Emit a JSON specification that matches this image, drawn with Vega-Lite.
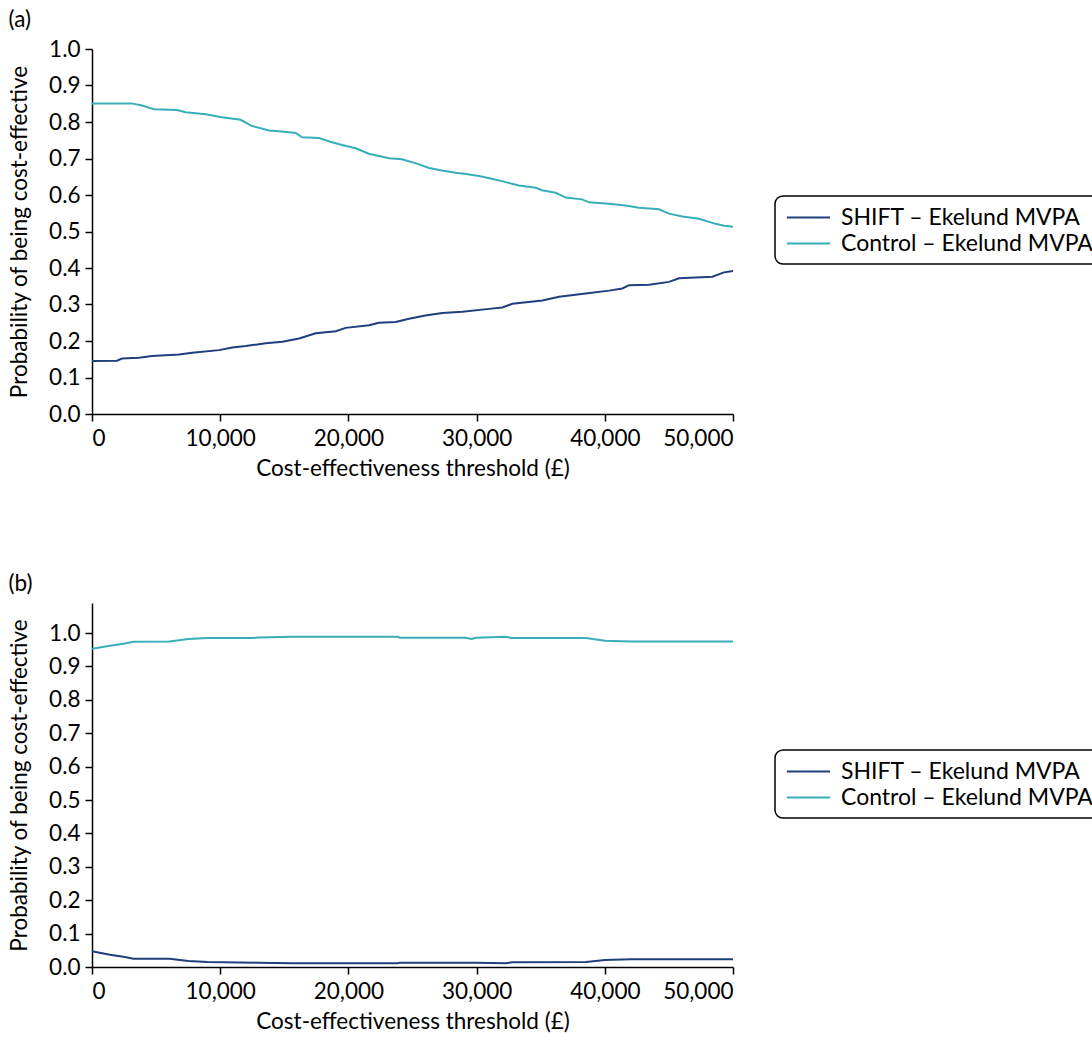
{
  "$schema": "https://vega.github.io/schema/vega-lite/v6.json",
  "padding": {"left": 8, "top": 8, "right": 0, "bottom": 0},
  "background": "white",
  "config": {
    "font": "Lato",
    "view": {"stroke": null},
    "axis": {
      "grid": false,
      "domainColor": "black",
      "domainWidth": 1.5,
      "tickColor": "black",
      "tickWidth": 1.5,
      "tickSize": 7,
      "labelColor": "black",
      "labelFontSize": 22.5,
      "labelFont": "Lato",
      "titleColor": "black",
      "titleFontSize": 22.5,
      "titleFont": "Lato",
      "titleFontWeight": "normal"
    },
    "axisX": {"labelPadding": 6, "titlePadding": 8},
    "axisY": {"labelPadding": 5, "titlePadding": 17},
    "title": {"fontSize": 22.5, "fontWeight": "normal", "color": "black", "font": "Lato", "anchor": "start", "frame": "bounds"},
    "legend": {
      "strokeColor": "black",
      "strokeWidth": 1.5,
      "cornerRadius": 8,
      "fillColor": "white",
      "padding": 8.5,
      "symbolOffset": 12,
      "symbolType": "M-1.8,0L1.8,0",
      "symbolSize": 576,
      "symbolStrokeWidth": 2,
      "labelFontSize": 23,
      "labelFont": "Lato",
      "labelColor": "black",
      "labelOffset": 19.5,
      "labelLimit": 400,
      "rowPadding": 1
    }
  },
  "datasets": {
    "a": [
      {"s": "Control – Ekelund MVPA", "t": 0, "v": 0.851},
      {"s": "Control – Ekelund MVPA", "t": 3100, "v": 0.851},
      {"s": "Control – Ekelund MVPA", "t": 3900, "v": 0.845},
      {"s": "Control – Ekelund MVPA", "t": 4840, "v": 0.835},
      {"s": "Control – Ekelund MVPA", "t": 6630, "v": 0.833},
      {"s": "Control – Ekelund MVPA", "t": 7300, "v": 0.827},
      {"s": "Control – Ekelund MVPA", "t": 8870, "v": 0.821},
      {"s": "Control – Ekelund MVPA", "t": 10140, "v": 0.813},
      {"s": "Control – Ekelund MVPA", "t": 11600, "v": 0.806},
      {"s": "Control – Ekelund MVPA", "t": 12480, "v": 0.789},
      {"s": "Control – Ekelund MVPA", "t": 13800, "v": 0.777},
      {"s": "Control – Ekelund MVPA", "t": 15000, "v": 0.773},
      {"s": "Control – Ekelund MVPA", "t": 15890, "v": 0.770},
      {"s": "Control – Ekelund MVPA", "t": 16380, "v": 0.758},
      {"s": "Control – Ekelund MVPA", "t": 17700, "v": 0.756},
      {"s": "Control – Ekelund MVPA", "t": 18600, "v": 0.746},
      {"s": "Control – Ekelund MVPA", "t": 19500, "v": 0.737},
      {"s": "Control – Ekelund MVPA", "t": 20570, "v": 0.728},
      {"s": "Control – Ekelund MVPA", "t": 21600, "v": 0.713},
      {"s": "Control – Ekelund MVPA", "t": 23160, "v": 0.701},
      {"s": "Control – Ekelund MVPA", "t": 24180, "v": 0.698},
      {"s": "Control – Ekelund MVPA", "t": 25350, "v": 0.686},
      {"s": "Control – Ekelund MVPA", "t": 26290, "v": 0.674},
      {"s": "Control – Ekelund MVPA", "t": 27300, "v": 0.667},
      {"s": "Control – Ekelund MVPA", "t": 28370, "v": 0.661},
      {"s": "Control – Ekelund MVPA", "t": 29300, "v": 0.657},
      {"s": "Control – Ekelund MVPA", "t": 30190, "v": 0.652},
      {"s": "Control – Ekelund MVPA", "t": 31000, "v": 0.646},
      {"s": "Control – Ekelund MVPA", "t": 31980, "v": 0.638},
      {"s": "Control – Ekelund MVPA", "t": 33300, "v": 0.626},
      {"s": "Control – Ekelund MVPA", "t": 34610, "v": 0.620},
      {"s": "Control – Ekelund MVPA", "t": 35100, "v": 0.613},
      {"s": "Control – Ekelund MVPA", "t": 36170, "v": 0.606},
      {"s": "Control – Ekelund MVPA", "t": 36950, "v": 0.593},
      {"s": "Control – Ekelund MVPA", "t": 38220, "v": 0.588},
      {"s": "Control – Ekelund MVPA", "t": 38770, "v": 0.580},
      {"s": "Control – Ekelund MVPA", "t": 40330, "v": 0.576},
      {"s": "Control – Ekelund MVPA", "t": 41630, "v": 0.571},
      {"s": "Control – Ekelund MVPA", "t": 42670, "v": 0.565},
      {"s": "Control – Ekelund MVPA", "t": 44230, "v": 0.561},
      {"s": "Control – Ekelund MVPA", "t": 45010, "v": 0.549},
      {"s": "Control – Ekelund MVPA", "t": 46050, "v": 0.541},
      {"s": "Control – Ekelund MVPA", "t": 47350, "v": 0.535},
      {"s": "Control – Ekelund MVPA", "t": 48650, "v": 0.521},
      {"s": "Control – Ekelund MVPA", "t": 49300, "v": 0.516},
      {"s": "Control – Ekelund MVPA", "t": 50000, "v": 0.513},
      {"s": "SHIFT – Ekelund MVPA", "t": 0, "v": 0.145},
      {"s": "SHIFT – Ekelund MVPA", "t": 1950, "v": 0.146},
      {"s": "SHIFT – Ekelund MVPA", "t": 2340, "v": 0.152},
      {"s": "SHIFT – Ekelund MVPA", "t": 3660, "v": 0.154},
      {"s": "SHIFT – Ekelund MVPA", "t": 4680, "v": 0.159},
      {"s": "SHIFT – Ekelund MVPA", "t": 6790, "v": 0.163},
      {"s": "SHIFT – Ekelund MVPA", "t": 7820, "v": 0.168},
      {"s": "SHIFT – Ekelund MVPA", "t": 9910, "v": 0.175},
      {"s": "SHIFT – Ekelund MVPA", "t": 10950, "v": 0.182},
      {"s": "SHIFT – Ekelund MVPA", "t": 11990, "v": 0.186},
      {"s": "SHIFT – Ekelund MVPA", "t": 13550, "v": 0.194},
      {"s": "SHIFT – Ekelund MVPA", "t": 14850, "v": 0.198},
      {"s": "SHIFT – Ekelund MVPA", "t": 16150, "v": 0.207},
      {"s": "SHIFT – Ekelund MVPA", "t": 17450, "v": 0.221},
      {"s": "SHIFT – Ekelund MVPA", "t": 19010, "v": 0.227},
      {"s": "SHIFT – Ekelund MVPA", "t": 19790, "v": 0.236},
      {"s": "SHIFT – Ekelund MVPA", "t": 21610, "v": 0.243},
      {"s": "SHIFT – Ekelund MVPA", "t": 22390, "v": 0.250},
      {"s": "SHIFT – Ekelund MVPA", "t": 23690, "v": 0.252},
      {"s": "SHIFT – Ekelund MVPA", "t": 24730, "v": 0.261},
      {"s": "SHIFT – Ekelund MVPA", "t": 26000, "v": 0.270},
      {"s": "SHIFT – Ekelund MVPA", "t": 27330, "v": 0.277},
      {"s": "SHIFT – Ekelund MVPA", "t": 28890, "v": 0.280},
      {"s": "SHIFT – Ekelund MVPA", "t": 30970, "v": 0.288},
      {"s": "SHIFT – Ekelund MVPA", "t": 32010, "v": 0.292},
      {"s": "SHIFT – Ekelund MVPA", "t": 32790, "v": 0.302},
      {"s": "SHIFT – Ekelund MVPA", "t": 35130, "v": 0.311},
      {"s": "SHIFT – Ekelund MVPA", "t": 36430, "v": 0.321},
      {"s": "SHIFT – Ekelund MVPA", "t": 38510, "v": 0.330},
      {"s": "SHIFT – Ekelund MVPA", "t": 40330, "v": 0.338},
      {"s": "SHIFT – Ekelund MVPA", "t": 41370, "v": 0.344},
      {"s": "SHIFT – Ekelund MVPA", "t": 41890, "v": 0.353},
      {"s": "SHIFT – Ekelund MVPA", "t": 43450, "v": 0.354},
      {"s": "SHIFT – Ekelund MVPA", "t": 45010, "v": 0.362},
      {"s": "SHIFT – Ekelund MVPA", "t": 45790, "v": 0.372},
      {"s": "SHIFT – Ekelund MVPA", "t": 48390, "v": 0.376},
      {"s": "SHIFT – Ekelund MVPA", "t": 49300, "v": 0.388},
      {"s": "SHIFT – Ekelund MVPA", "t": 50000, "v": 0.392}
    ],
    "b": [
      {"s": "Control – Ekelund MVPA", "t": 0, "v": 0.953},
      {"s": "Control – Ekelund MVPA", "t": 1400, "v": 0.962},
      {"s": "Control – Ekelund MVPA", "t": 2570, "v": 0.969},
      {"s": "Control – Ekelund MVPA", "t": 3230, "v": 0.974},
      {"s": "Control – Ekelund MVPA", "t": 6040, "v": 0.975},
      {"s": "Control – Ekelund MVPA", "t": 7520, "v": 0.982},
      {"s": "Control – Ekelund MVPA", "t": 9000, "v": 0.985},
      {"s": "Control – Ekelund MVPA", "t": 12640, "v": 0.985},
      {"s": "Control – Ekelund MVPA", "t": 12950, "v": 0.987},
      {"s": "Control – Ekelund MVPA", "t": 15600, "v": 0.989},
      {"s": "Control – Ekelund MVPA", "t": 23850, "v": 0.989},
      {"s": "Control – Ekelund MVPA", "t": 24020, "v": 0.986},
      {"s": "Control – Ekelund MVPA", "t": 29130, "v": 0.986},
      {"s": "Control – Ekelund MVPA", "t": 29620, "v": 0.982},
      {"s": "Control – Ekelund MVPA", "t": 29950, "v": 0.986},
      {"s": "Control – Ekelund MVPA", "t": 32270, "v": 0.989},
      {"s": "Control – Ekelund MVPA", "t": 32760, "v": 0.985},
      {"s": "Control – Ekelund MVPA", "t": 38530, "v": 0.985},
      {"s": "Control – Ekelund MVPA", "t": 40010, "v": 0.977},
      {"s": "Control – Ekelund MVPA", "t": 42000, "v": 0.975},
      {"s": "Control – Ekelund MVPA", "t": 50000, "v": 0.975},
      {"s": "SHIFT – Ekelund MVPA", "t": 0, "v": 0.047},
      {"s": "SHIFT – Ekelund MVPA", "t": 1400, "v": 0.037},
      {"s": "SHIFT – Ekelund MVPA", "t": 2570, "v": 0.030},
      {"s": "SHIFT – Ekelund MVPA", "t": 3230, "v": 0.025},
      {"s": "SHIFT – Ekelund MVPA", "t": 6040, "v": 0.025},
      {"s": "SHIFT – Ekelund MVPA", "t": 7520, "v": 0.018},
      {"s": "SHIFT – Ekelund MVPA", "t": 9000, "v": 0.015},
      {"s": "SHIFT – Ekelund MVPA", "t": 12950, "v": 0.013},
      {"s": "SHIFT – Ekelund MVPA", "t": 15600, "v": 0.011},
      {"s": "SHIFT – Ekelund MVPA", "t": 23850, "v": 0.011},
      {"s": "SHIFT – Ekelund MVPA", "t": 24020, "v": 0.013},
      {"s": "SHIFT – Ekelund MVPA", "t": 29950, "v": 0.013},
      {"s": "SHIFT – Ekelund MVPA", "t": 32270, "v": 0.011},
      {"s": "SHIFT – Ekelund MVPA", "t": 32760, "v": 0.014},
      {"s": "SHIFT – Ekelund MVPA", "t": 38530, "v": 0.015},
      {"s": "SHIFT – Ekelund MVPA", "t": 40010, "v": 0.021},
      {"s": "SHIFT – Ekelund MVPA", "t": 42000, "v": 0.023},
      {"s": "SHIFT – Ekelund MVPA", "t": 50000, "v": 0.023}
    ]
  },
  "spacing": 92,
  "resolve": {"scale": {"color": "independent"}, "legend": {"color": "independent"}},
  "vconcat": [
    {
      "title": {"text": "(a)", "offset": 7},
      "width": 641,
      "height": 365,
      "data": {"name": "a"},
      "mark": {"type": "line", "strokeWidth": 2},
      "encoding": {
        "x": {"field": "t", "type": "quantitative", "scale": {"domain": [0, 50000], "nice": false},
          "axis": {"values": [0, 10000, 20000, 30000, 40000, 50000], "format": ",d", "title": "Cost-effectiveness threshold (£)"}},
        "y": {"field": "v", "type": "quantitative", "scale": {"domain": [0, 1], "nice": false},
          "axis": {"values": [0, 0.1, 0.2, 0.3, 0.4, 0.5, 0.6, 0.7, 0.8, 0.9, 1.0], "format": ".1f", "title": "Probability of being cost-effective"}},
        "color": {"field": "s", "type": "nominal",
          "scale": {"domain": ["SHIFT – Ekelund MVPA", "Control – Ekelund MVPA"], "range": ["#1f3f7c", "#38afb8"]},
          "legend": {"title": null, "orient": "none", "legendX": 683, "legendY": 147}}
      }
    },
    {
      "title": {"text": "(b)", "offset": 8},
      "width": 641,
      "height": 364,
      "data": {"name": "b"},
      "mark": {"type": "line", "strokeWidth": 2},
      "encoding": {
        "x": {"field": "t", "type": "quantitative", "scale": {"domain": [0, 50000], "nice": false},
          "axis": {"values": [0, 10000, 20000, 30000, 40000, 50000], "format": ",d", "title": "Cost-effectiveness threshold (£)"}},
        "y": {"field": "v", "type": "quantitative", "scale": {"domain": [0, 1.09], "nice": false},
          "axis": {"values": [0, 0.1, 0.2, 0.3, 0.4, 0.5, 0.6, 0.7, 0.8, 0.9, 1.0], "format": ".1f", "title": "Probability of being cost-effective"}},
        "color": {"field": "s", "type": "nominal",
          "scale": {"domain": ["SHIFT – Ekelund MVPA", "Control – Ekelund MVPA"], "range": ["#1f3f7c", "#38afb8"]},
          "legend": {"title": null, "orient": "none", "legendX": 683, "legendY": 147}}
      }
    }
  ]
}
